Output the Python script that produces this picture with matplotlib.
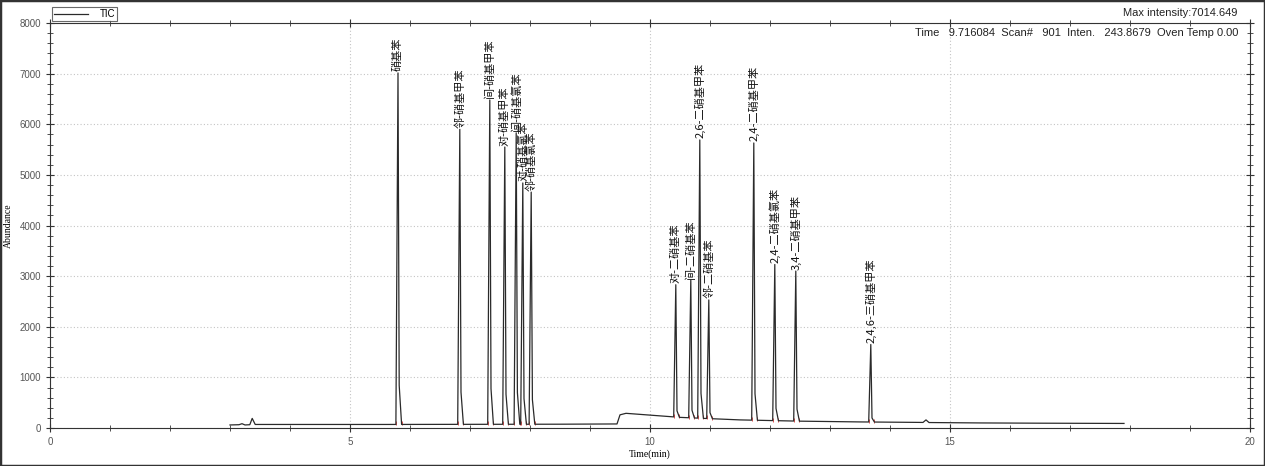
import numpy as np
import matplotlib
matplotlib.use("Agg")
import matplotlib.pyplot as plt
from matplotlib.patches import Rectangle
from matplotlib.ticker import MultipleLocator

plt.rcParams["font.family"] = ["Liberation Sans", "DejaVu Sans"]

# peak table
peak_names = ["硝基苯", "邻-硝基甲苯", "间-硝基甲苯", "对-硝基甲苯", "间-硝基氯苯",
              "对-硝基氯苯", "邻-硝基氯苯", "对-二硝基苯", "间-二硝基苯", "2,6-二硝基甲苯",
              "邻-二硝基苯", "2,4-二硝基甲苯", "2,4-二硝基氯苯", "3,4-二硝基甲苯",
              "2,4,6-三硝基甲苯"]
peak_times = [5.80, 6.83, 7.33, 7.58, 7.77, 7.88, 8.02, 10.43, 10.68, 10.83,
              10.98, 11.73, 12.08, 12.43, 13.68]
peak_heights = [7014, 5900, 6480, 5550, 5830, 4840, 4660, 2830, 2920, 5690,
                2530, 5630, 3230, 3100, 1650]

# baseline of the TIC trace
base_times = [3.0, 3.15, 3.2, 3.25, 3.33, 3.37, 3.42, 5.6, 8.5, 9.45, 9.5, 9.6,
              10.5, 11.5, 12.5, 13.5, 14.55, 14.6, 14.65, 15.5, 16.5, 17.9]
base_values = [60, 65, 85, 60, 65, 190, 70, 70, 75, 80, 260, 290,
               210, 160, 135, 120, 110, 160, 108, 100, 95, 90]

# header info
max_text = "Max intensity:7014.649"
info_text = "Time   9.716084  Scan#   901  Inten.   243.8679  Oven Temp 0.00"


def build_trace():
    lw, rw = 0.035, 0.06
    pts = list(zip(base_times, base_values))
    feet = []
    for t, h in zip(peak_times, peak_heights):
        b0 = np.interp(t - lw, base_times, base_values)
        b1 = np.interp(t + rw, base_times, base_values)
        pts += [(t - lw, b0), (t, h), (t + 0.02, 0.12 * h), (t + rw, b1)]
        feet += [(t - lw, b0), (t + rw, b1)]
    pts.sort()
    return np.array(pts), np.array(feet)


def main():
    fig = plt.figure(figsize=(12.65, 4.66), dpi=100)
    ax = fig.add_axes([50 / 1265, 1 - 428 / 466, 1200 / 1265, 405 / 466])

    trace, feet = build_trace()
    ax.plot(trace[:, 0], trace[:, 1], color="#2a2a2a", lw=0.9, label="TIC")
    ax.scatter(feet[:, 0], feet[:, 1] + 20, marker="|", s=10, color="#e05050", lw=0.7)

    for name, t, h in zip(peak_names, peak_times, peak_heights):
        ax.text(t, h + 30, name, rotation=90, ha="center", va="bottom", fontsize=8,
                family=["Noto Sans CJK SC", "DejaVu Sans"], color="#111")

    ax.set_xlim(0, 20)
    ax.set_ylim(0, 8000)
    ax.xaxis.set_major_locator(MultipleLocator(5))
    ax.xaxis.set_minor_locator(MultipleLocator(1))
    ax.yaxis.set_major_locator(MultipleLocator(1000))
    ax.yaxis.set_minor_locator(MultipleLocator(200))
    ax.tick_params(which="both", direction="inout", top=True, right=True,
                   labelsize=7, labelcolor="#555", color="#333")
    ax.tick_params(which="major", length=6, width=0.8)
    ax.tick_params(which="minor", length=4, width=0.6)
    ax.grid(True, which="major", ls=(0, (1, 2)), color="#c4c4c4", lw=0.8)
    for s in ax.spines.values():
        s.set_color("#333")
        s.set_linewidth(0.8)

    ax.set_xlabel("Time(min)", family="Liberation Serif", fontsize=7, labelpad=2)
    ax.set_ylabel("Abundance", family="Liberation Serif", fontsize=7)
    ax.yaxis.set_label_coords(-0.031, 0.5)

    leg = ax.legend(loc="lower left", bbox_to_anchor=(0.002, 1.005), fontsize=7,
                    fancybox=False, edgecolor="#444", handlelength=3.5,
                    borderpad=0.2, borderaxespad=0.0, handletextpad=1.2)
    leg.get_frame().set_linewidth(0.8)

    fig.text(1237 / 1265, 1 - 13 / 466, max_text, ha="right", va="center",
             fontsize=8, color="#222")
    ax.text(0.9905, 0.975, info_text, transform=ax.transAxes, ha="right", va="center",
            fontsize=8, color="#222")

    fig.patches.append(Rectangle((0, 0), 1, 1, transform=fig.transFigure, fill=False,
                                 edgecolor="#333", lw=2.5))
    fig.savefig("out.png", dpi=100)


if __name__ == "__main__":
    main()
